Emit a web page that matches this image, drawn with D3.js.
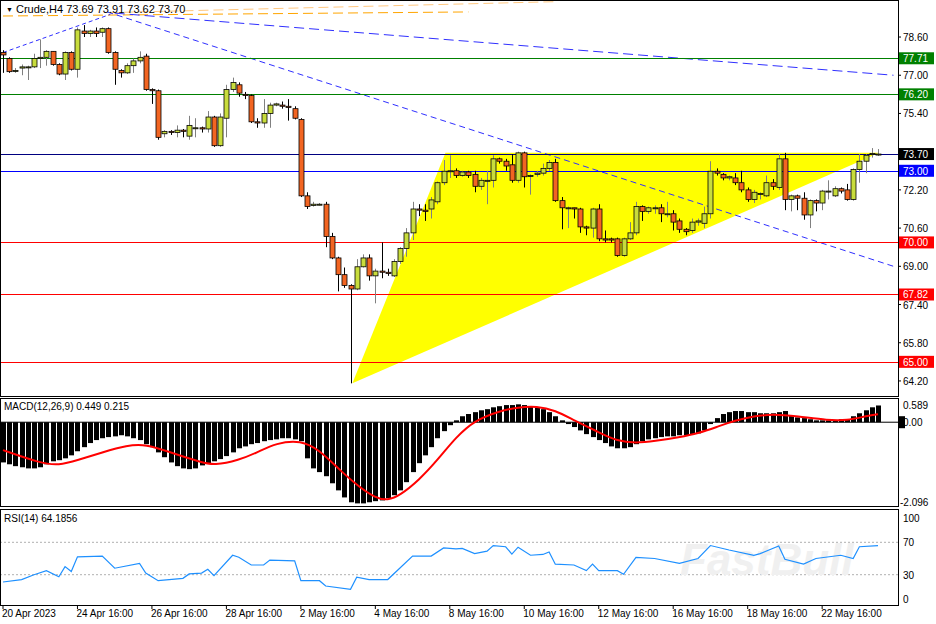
<!DOCTYPE html>
<html><head><meta charset="utf-8">
<script src="https://cdn.jsdelivr.net/npm/d3@7"></script>
<style>body{margin:0;background:#fff}svg{display:block;font-family:"Liberation Sans",Arial,sans-serif}</style>
</head><body>
<script>
// H4 crude candles: [open, high, low, close]
let candles = [
[77.95,78.05,77.1,77.85],[77.7,77.75,77.1,77.15],[77.2,77.3,77.1,77.2],[77.3,77.45,77.0,77.35],[77.35,77.4,76.8,77.35],
[77.35,77.9,77.3,77.7],[77.7,78.5,77.3,77.75],[77.75,78.05,77.4,78.0],[78.0,78.0,77.4,77.45],[77.45,77.5,77.0,77.05],
[77.05,78.0,76.8,77.95],[77.95,78.0,77.2,77.25],[77.25,79.0,76.9,78.9],[78.85,79.1,78.6,78.75],[78.75,78.9,78.6,78.85],
[78.85,79.0,78.6,78.75],[78.8,79.0,78.6,78.95],[78.95,79.0,77.9,77.95],[77.95,78.0,76.6,77.25],[77.2,77.25,76.9,77.1],
[77.1,77.5,77.05,77.4],[77.4,77.7,77.1,77.6],[77.6,78.0,77.5,77.75],[77.8,77.9,76.35,76.4],[76.4,76.45,75.8,76.35],
[76.35,76.4,74.3,74.4],[74.55,74.7,74.4,74.65],[74.65,74.7,74.5,74.6],[74.6,74.9,74.4,74.7],[74.7,74.75,74.4,74.65],
[74.45,75.3,74.3,74.9],[74.8,75.2,74.4,74.8],[74.8,74.85,74.6,74.75],[74.75,75.5,74.6,75.25],[75.25,75.3,74.0,74.05],
[74.05,75.4,74.0,75.25],[75.2,76.6,74.4,76.4],[76.4,76.9,76.3,76.7],[76.6,76.7,76.1,76.25],[76.2,76.3,76.0,76.15],
[76.15,76.2,75.0,75.05],[75.05,75.2,74.8,75.0],[75.0,76.0,74.8,75.4],[75.4,75.85,74.8,75.75],[75.75,75.85,75.7,75.8],
[75.75,75.9,75.6,75.7],[75.7,76.0,75.1,75.65],[75.6,75.7,75.15,75.2],[75.15,75.2,71.9,71.95],[71.95,72.1,71.4,71.5],
[71.55,71.7,71.5,71.6],[71.6,71.65,71.55,71.6],[71.6,71.7,69.8,70.25],[70.25,70.4,69.3,69.35],[69.35,69.4,67.95,68.65],
[68.65,68.95,68.1,68.2],[68.2,68.25,64.1,68.05],[68.05,69.3,68.0,68.98],[68.98,69.5,68.95,69.35],[69.35,69.5,68.4,68.6],
[68.6,68.9,67.45,68.8],[68.8,70.0,68.5,68.75],[68.75,68.9,68.6,68.7],[68.6,69.3,68.55,69.2],[69.2,69.8,69.1,69.75],
[69.75,70.6,69.4,70.4],[70.4,71.7,70.1,71.4],[71.4,71.6,71.1,71.35],[71.35,71.6,70.9,71.3],[71.4,71.9,71.0,71.78],
[71.7,72.55,71.6,72.5],[72.5,73.45,72.4,72.98],[72.98,73.65,72.7,73.0],[73.0,73.1,72.7,72.8],[72.8,73.0,72.75,72.95],
[72.95,73.0,72.7,72.8],[72.85,73.0,72.1,72.35],[72.35,72.7,72.2,72.6],[72.6,73.0,71.6,72.6],[72.6,73.65,72.3,73.5],
[73.5,73.55,73.3,73.4],[73.4,73.5,73.0,73.2],[73.25,73.7,72.5,72.6],[72.6,73.8,72.5,73.75],[73.75,73.8,72.3,72.75],
[72.8,72.85,72.0,72.8],[72.85,73.0,72.75,72.9],[72.9,73.3,72.8,73.1],[73.1,73.45,73.0,73.35],[73.35,73.5,71.7,71.75],
[71.75,71.9,70.55,71.45],[71.45,71.5,70.6,71.45],[71.45,71.45,71.0,71.4],[71.4,71.45,70.4,70.65],[70.65,70.7,70.3,70.6],
[70.6,71.45,70.2,71.4],[71.4,71.6,70.05,70.15],[70.15,70.5,70.0,70.1],[70.15,70.2,70.0,70.1],[70.15,70.2,69.4,69.45],
[69.45,70.2,69.4,70.15],[70.15,70.85,70.1,70.4],[70.4,71.7,70.3,71.5],[71.5,71.55,70.9,71.3],[71.3,71.5,71.2,71.45],
[71.45,71.55,71.2,71.45],[71.45,71.6,70.85,71.2],[71.2,71.7,71.05,71.2],[71.2,71.35,70.5,70.85],[70.9,71.0,70.4,70.55],
[70.55,70.6,70.3,70.45],[70.5,71.0,70.4,70.85],[70.85,71.0,70.7,70.9],[70.8,71.5,70.6,71.2],[71.2,73.4,71.0,72.98],
[72.98,73.1,72.8,72.9],[72.85,72.9,72.6,72.7],[72.7,72.8,72.6,72.75],[72.7,72.9,72.4,72.5],[72.5,73.0,72.1,72.2],
[72.2,72.3,71.7,71.8],[71.8,72.2,71.65,72.1],[72.05,72.1,71.8,72.05],[71.95,72.8,71.9,72.5],[72.5,72.65,72.2,72.35],
[72.3,73.7,72.2,73.5],[73.5,73.75,71.35,71.8],[71.8,72.0,71.3,71.95],[71.95,72.0,71.35,71.85],[71.85,72.1,70.95,71.15],
[71.15,71.8,70.6,71.75],[71.75,71.8,71.3,71.65],[71.65,72.2,71.35,72.15],[72.15,72.6,71.8,72.15],[71.95,72.35,71.9,72.25],
[72.25,72.3,72.05,72.15],[72.2,72.45,71.75,71.8],[71.8,73.1,71.75,73.05],[73.05,73.7,72.5,73.4],[73.4,73.7,72.9,73.65],
[73.7,73.95,73.55,73.72],[73.69,73.91,73.62,73.70]
]

let macd = [-1.08,-1.13,-1.18,-1.21,-1.24,-1.24,-1.21,-1.13,-1.05,-1.02,-0.97,-0.89,-0.78,-0.67,-0.56,-0.48,-0.43,-0.40,-0.38,-0.35,
-0.38,-0.43,-0.48,-0.59,-0.67,-0.81,-0.94,-1.08,-1.18,-1.24,-1.26,-1.24,-1.16,-1.10,-1.05,-0.99,-0.91,-0.81,-0.70,-0.65,
-0.59,-0.56,-0.51,-0.48,-0.46,-0.43,-0.43,-0.46,-0.51,-0.97,-1.24,-1.34,-1.45,-1.64,-1.83,-2.02,-2.15,-2.18,-2.18,-2.15,
-2.12,-2.10,-2.04,-1.96,-1.83,-1.61,-1.34,-1.10,-0.89,-0.67,-0.43,-0.24,-0.08,0.05,0.16,0.22,0.27,0.32,0.35,0.40,
0.43,0.46,0.46,0.48,0.46,0.43,0.40,0.35,0.27,0.16,0.05,-0.05,-0.13,-0.22,-0.32,-0.40,-0.48,-0.56,-0.65,-0.70,
-0.70,-0.67,-0.59,-0.51,-0.46,-0.43,-0.40,-0.38,-0.38,-0.35,-0.35,-0.32,-0.30,-0.22,-0.05,0.11,0.22,0.27,0.30,0.30,
0.27,0.27,0.24,0.24,0.24,0.27,0.30,0.19,0.13,0.11,0.08,0.05,0.05,0.05,0.05,0.08,0.08,0.16,0.24,0.32,0.40,0.449]

// [bar index, value]
let signal = [[0,-0.75],[6,-1.10],[9,-1.16],[12,-1.02],[16,-0.81],[20,-0.62],[23,-0.59],[27,-0.81],[32,-1.08],[34,-1.16],
[38,-1.02],[41,-0.81],[44,-0.56],[48,-0.48],[51,-0.75],[54,-1.24],[57,-1.69],[60,-2.04],[62,-2.10],[64,-1.96],[67,-1.56],
[70,-1.02],[73,-0.40],[76,0.05],[80,0.30],[83,0.40],[86,0.43],[89,0.32],[92,0.05],[96,-0.27],[99,-0.51],[102,-0.56],
[105,-0.51],[109,-0.40],[112,-0.30],[115,-0.13],[118,0.05],[121,0.16],[124,0.22],[128,0.16],[133,0.05],[136,0.05],[139,0.16],[141,0.215]]

let rsi = [[0,21],[3,24],[5,30],[7,35],[9,27.5],[10,40],[11,34],[12,52],[16,53],[18,38],[22,44],[23,32],[25,22.6],[29,25.5],
[30,31],[32,32],[33,36.6],[34,28.8],[37,54],[38,51.5],[40,42],[42,42],[43,48],[47,47],[48,22.6],[51,22.6],[52,16],[56,12],
[57,27],[59,24],[62,24],[66,53],[69,53],[71,63],[73,62],[74,62.5],[76,56],[78,59],[79,66],[81,64.5],[82,55.5],[83,64],
[85,54],[87,55],[88,58],[89,43],[92,42],[94,35],[95,43],[96,35],[99,35],[100,30.5],[102,51.5],[105,50],[109,44],[112,50],
[114,66],[117,60.5],[121,54],[122,56],[125,65.5],[126,49],[129,43],[131,50],[135,54],[137,50],[138,64.5],[141,66]]

let priceTicks = [78.60, 77.00, 75.40, 72.20, 70.60, 69.00, 67.40, 65.80, 64.20]
let levels = [
  {v:77.71, color:'#008000'}, {v:76.20, color:'#008000'},
  {v:73.70, color:'#000080', box:'#000000'}, {v:73.00, color:'#0000ff', box:'#0000ff'},
  {v:70.00, color:'#ff0000'}, {v:67.82, color:'#ff0000'}, {v:65.00, color:'#ff0000'}
]
// triangle vertices [bar index, price]
let triangle = [[56.3,64.1],[71.3,73.75],[141.2,73.75]]
let trendBlue = [
  {a:[0,77.95], b:[17.3,79.55], dash:'4,3'},
  {a:[16.8,79.65], b:[143.5,69.0], dash:'6,4'},
  {a:[18,79.6], b:[143.5,77.0], dash:'10,5'}
]
let trendOrange = [
  {a:[0,79.48], b:[75,79.65], color:'#ffa500'},
  {a:[17,79.62], b:[89,80.08], color:'#ffc880'}
]
let dateLabels = ['20 Apr 2023','24 Apr 16:00','26 Apr 16:00','28 Apr 16:00','2 May 16:00','4 May 16:00',
  '8 May 16:00','10 May 16:00','12 May 16:00','16 May 16:00','18 May 16:00','22 May 16:00']
let rsiTicks = [100, 70, 30, 0]

const W = 936, H = 624, PR = 898
const BULL = '#c8dc3c', BEAR = '#f26522'

let svg = d3.select('body').append('svg').attr('width', W).attr('height', H)

let x = d3.scaleLinear().domain([0, candles.length - 1]).range([3, 878])
let y = d3.scaleLinear().domain([63.57, 80.15]).range([396, 0])
let ym = d3.scaleLinear().domain([-2.25, 0.65]).range([506, 398])
let yr = d3.scaleLinear().domain([0, 100]).range([599, 518])

let main = svg.append('g')
main.append('defs').append('clipPath').attr('id', 'cm').append('rect').attr('x', 0).attr('y', 0).attr('width', PR).attr('height', 396)
let mc = main.append('g').attr('clip-path', 'url(#cm)')

// triangle
mc.append('path')
  .attr('d', d3.line().x(d => x(d[0])).y(d => y(d[1]))(triangle) + 'Z')
  .attr('fill', '#ffff00')

// trend lines
mc.selectAll('.tro').data(trendOrange).join('line')
  .attr('x1', d => x(d.a[0])).attr('y1', d => y(d.a[1]))
  .attr('x2', d => x(d.b[0])).attr('y2', d => y(d.b[1]))
  .attr('stroke', d => d.color).attr('stroke-dasharray', '10,5')
mc.selectAll('.trb').data(trendBlue).join('line')
  .attr('x1', d => x(d.a[0])).attr('y1', d => y(d.a[1]))
  .attr('x2', d => x(d.b[0])).attr('y2', d => y(d.b[1]))
  .attr('stroke', '#3030ff').attr('stroke-dasharray', d => d.dash)

// level lines
mc.selectAll('.lvl').data(levels).join('line')
  .attr('x1', 0).attr('x2', PR)
  .attr('y1', d => Math.round(y(d.v)) + 0.5).attr('y2', d => Math.round(y(d.v)) + 0.5)
  .attr('stroke', d => d.color)

// candles
let cg = mc.selectAll('.candle').data(candles).join('g').attr('class', 'candle')
cg.append('line')
  .attr('x1', (d, i) => Math.round(x(i)) + 0.5).attr('x2', (d, i) => Math.round(x(i)) + 0.5)
  .attr('y1', d => y(d[1])).attr('y2', d => y(d[2]))
  .attr('stroke', d => d[3] >= d[0] ? '#808080' : '#000')
cg.append('rect')
  .attr('x', (d, i) => Math.round(x(i)) - 2).attr('width', 5)
  .attr('y', d => y(Math.max(d[0], d[3])))
  .attr('height', d => Math.max(1, y(Math.min(d[0], d[3])) - y(Math.max(d[0], d[3]))))
  .attr('fill', d => d[3] >= d[0] ? BULL : BEAR)
  .attr('stroke', '#000').attr('stroke-width', 0.8)

main.append('text').attr('x', 6).attr('y', 12).attr('font-size', 7).text('▼')
main.append('text').attr('x', 16).attr('y', 13).attr('font-size', 11).attr('fill', '#000')
  .text('Crude,H4  73.69 73.91 73.62 73.70')

// price axis
let ax = svg.append('g').attr('font-size', 10)
ax.selectAll('.pt').data(priceTicks).join('text')
  .attr('x', 903).attr('y', d => y(d) + 4).text(d => d.toFixed(2))
ax.selectAll('.ptk').data(priceTicks).join('line')
  .attr('x1', PR).attr('x2', PR + 3).attr('y1', d => y(d)).attr('y2', d => y(d)).attr('stroke', '#000')
let lb = ax.selectAll('.lb').data(levels).join('g')
lb.append('rect').attr('x', PR + 1).attr('y', d => y(d.v) - 6).attr('width', 35).attr('height', 12)
  .attr('fill', d => d.box || d.color)
lb.append('text').attr('x', 903).attr('y', d => y(d.v) + 4).attr('fill', '#fff').text(d => d.v.toFixed(2))

// MACD panel
let mp = svg.append('g')
mp.selectAll('.hb').data(macd).join('rect')
  .attr('x', (d, i) => Math.round(x(i)) - 2).attr('width', 5)
  .attr('y', d => Math.min(ym(d), ym(0))).attr('height', d => Math.abs(ym(d) - ym(0)))
  .attr('fill', '#000')
mp.append('line').attr('x1', 0).attr('x2', PR).attr('y1', ym(0)).attr('y2', ym(0)).attr('stroke', '#000')
mp.append('path').datum(signal)
  .attr('d', d3.line().x(d => x(d[0])).y(d => ym(d[1])).curve(d3.curveBasis))
  .attr('fill', 'none').attr('stroke', '#ff0000').attr('stroke-width', 2)
mp.append('text').attr('x', 4).attr('y', 410).attr('font-size', 10).text('MACD(12,26,9) 0.449 0.215')
mp.append('text').attr('x', 903).attr('y', 409).attr('font-size', 10).text('0.589')
mp.append('rect').attr('x', PR + 1).attr('y', ym(0) - 6).attr('width', 6).attr('height', 12).attr('fill', '#000')
mp.append('text').attr('x', 903).attr('y', ym(0) + 4).attr('font-size', 10).text('0.00')
mp.append('text').attr('x', 900).attr('y', 506).attr('font-size', 10).text('-2.096')

// RSI panel
let rp = svg.append('g')
rp.selectAll('.rl').data([70, 30]).join('line')
  .attr('x1', 0).attr('x2', PR).attr('y1', d => yr(d)).attr('y2', d => yr(d))
  .attr('stroke', '#b0b0b0').attr('stroke-dasharray', '2,2')
rp.append('text').attr('x', 680).attr('y', 575).attr('font-size', 44).attr('font-weight', 'bold')
  .attr('fill', '#f0f0f0').attr('font-style', 'italic').text('FastBull')
rp.append('path').datum(rsi)
  .attr('d', d3.line().x(d => x(d[0])).y(d => yr(d[1])))
  .attr('fill', 'none').attr('stroke', '#1e90ff').attr('stroke-width', 1.2)
rp.append('text').attr('x', 4).attr('y', 522).attr('font-size', 10).text('RSI(14) 64.1856')
rp.selectAll('.rt').data(rsiTicks).join('text')
  .attr('x', 903).attr('y', d => yr(d) + 4).attr('font-size', 10).text(d => d)

// frames
let fr = svg.append('g').attr('fill', 'none').attr('stroke', '#000')
fr.append('rect').attr('x', 0.5).attr('y', 0.5).attr('width', PR).attr('height', 396)
fr.append('rect').attr('x', 0.5).attr('y', 398.5).attr('width', PR).attr('height', 108)
fr.append('rect').attr('x', 0.5).attr('y', 509.5).attr('width', PR).attr('height', 96)

// date axis
svg.selectAll('.dl').data(dateLabels).join('text')
  .attr('x', (d, i) => x(i * 12) - 1).attr('y', 617).attr('font-size', 10).text(d => d)
svg.selectAll('.dt').data(dateLabels).join('line')
  .attr('x1', (d, i) => x(i * 12)).attr('x2', (d, i) => x(i * 12))
  .attr('y1', 606).attr('y2', 609).attr('stroke', '#000')
</script>
</body></html>
